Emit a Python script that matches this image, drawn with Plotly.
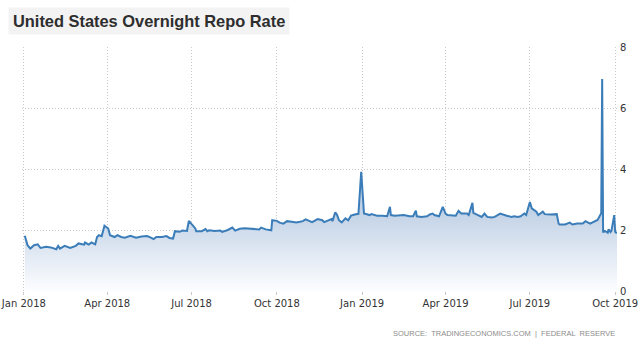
import plotly.graph_objects as go

# Overnight repo rate observations (percent)
dates = [
    "2018-01-02", "2018-01-04", "2018-01-05", "2018-01-08", "2018-01-12", "2018-01-16", "2018-01-19",
    "2018-01-25", "2018-01-30", "2018-02-05", "2018-02-07", "2018-02-09", "2018-02-14", "2018-02-20",
    "2018-02-26", "2018-03-01", "2018-03-07", "2018-03-08", "2018-03-12", "2018-03-15", "2018-03-19",
    "2018-03-21", "2018-03-23", "2018-03-26", "2018-03-29", "2018-04-02", "2018-04-04", "2018-04-09",
    "2018-04-12", "2018-04-16", "2018-04-20", "2018-04-26", "2018-05-02", "2018-05-08", "2018-05-14",
    "2018-05-18", "2018-05-21", "2018-05-24", "2018-05-30", "2018-06-04", "2018-06-07", "2018-06-11",
    "2018-06-13", "2018-06-18", "2018-06-21", "2018-06-26", "2018-06-28", "2018-07-02", "2018-07-05",
    "2018-07-06", "2018-07-12", "2018-07-16", "2018-07-18", "2018-07-20", "2018-07-26", "2018-08-01",
    "2018-08-03", "2018-08-09", "2018-08-14", "2018-08-17", "2018-08-22", "2018-08-27", "2018-09-04",
    "2018-09-07", "2018-09-12", "2018-09-14", "2018-09-19", "2018-09-25", "2018-09-26", "2018-10-01",
    "2018-10-04", "2018-10-08", "2018-10-12", "2018-10-17", "2018-10-22", "2018-10-26", "2018-10-29",
    "2018-11-01", "2018-11-05", "2018-11-08", "2018-11-14", "2018-11-19", "2018-11-21", "2018-11-26",
    "2018-11-29", "2018-11-30", "2018-12-03", "2018-12-05", "2018-12-07", "2018-12-10", "2018-12-14",
    "2018-12-17", "2018-12-20", "2018-12-24", "2018-12-28", "2018-12-31",
    "2019-01-03", "2019-01-07", "2019-01-09", "2019-01-11", "2019-01-17", "2019-01-23", "2019-01-28",
    "2019-01-31", "2019-02-01", "2019-02-05", "2019-02-11", "2019-02-15", "2019-02-21", "2019-02-25",
    "2019-02-28", "2019-03-01", "2019-03-06", "2019-03-12", "2019-03-15", "2019-03-18", "2019-03-20",
    "2019-03-25", "2019-03-29", "2019-04-01", "2019-04-03", "2019-04-09", "2019-04-12", "2019-04-15",
    "2019-04-18", "2019-04-24", "2019-04-26", "2019-04-30", "2019-05-01", "2019-05-06", "2019-05-10",
    "2019-05-13", "2019-05-16", "2019-05-21", "2019-05-24", "2019-05-30", "2019-06-03", "2019-06-06",
    "2019-06-11", "2019-06-14", "2019-06-18", "2019-06-21", "2019-06-25", "2019-06-27", "2019-07-01",
    "2019-07-03", "2019-07-08", "2019-07-10", "2019-07-15", "2019-07-17", "2019-07-23", "2019-07-30",
    "2019-08-01", "2019-08-02", "2019-08-08", "2019-08-13", "2019-08-16", "2019-08-21", "2019-08-27",
    "2019-08-30", "2019-09-04", "2019-09-09", "2019-09-12", "2019-09-16", "2019-09-17", "2019-09-18",
    "2019-09-19", "2019-09-20", "2019-09-23", "2019-09-24", "2019-09-26", "2019-09-27", "2019-09-30",
    "2019-10-01", "2019-10-02", "2019-10-03",
]
rates = [
    1.81, 1.55, 1.50, 1.39, 1.50, 1.53, 1.41,
    1.45, 1.43, 1.37, 1.48, 1.39, 1.48, 1.41,
    1.48, 1.56, 1.52, 1.59, 1.52, 1.59, 1.53,
    1.77, 1.83, 1.80, 2.14, 2.05, 1.83, 1.77,
    1.83, 1.77, 1.75, 1.81, 1.75, 1.79, 1.80,
    1.75, 1.70, 1.77, 1.77, 1.80, 1.74, 1.72,
    1.96, 1.94, 1.98, 1.97, 2.30, 2.16, 2.05,
    1.96, 1.96, 2.03, 1.96, 1.99, 1.97, 1.98,
    1.94, 2.00, 2.08, 1.98, 2.04, 2.06, 2.04,
    2.02, 2.02, 2.08, 2.02, 1.99, 2.32, 2.30,
    2.24, 2.21, 2.29, 2.27, 2.25, 2.27, 2.29,
    2.35, 2.29, 2.26, 2.36, 2.32, 2.26, 2.32,
    2.36, 2.29, 2.58, 2.49, 2.32, 2.25, 2.38,
    2.32, 2.47, 2.51, 2.53, 3.91,
    2.54, 2.51, 2.49, 2.52, 2.47, 2.47, 2.45,
    2.76, 2.49, 2.47, 2.49, 2.49, 2.45, 2.45,
    2.63, 2.45, 2.43, 2.45, 2.51, 2.54, 2.49,
    2.45, 2.76, 2.54, 2.49, 2.49, 2.47, 2.63,
    2.54, 2.54, 2.49, 2.89, 2.56, 2.49, 2.43,
    2.54, 2.43, 2.41, 2.43, 2.54, 2.49, 2.47,
    2.43, 2.45, 2.43, 2.45, 2.54, 2.49, 2.92,
    2.71, 2.60, 2.49, 2.60, 2.52, 2.51, 2.52,
    2.21, 2.18, 2.18, 2.24, 2.18, 2.21, 2.21,
    2.29, 2.21, 2.27, 2.33, 2.55, 6.95, 1.94,
    1.94, 1.97, 1.91, 2.02, 1.93, 1.97, 2.49,
    1.94, 1.91, 1.93,
]

x_ticks = ["2018-01-01", "2018-04-01", "2018-07-01", "2018-10-01",
           "2019-01-01", "2019-04-01", "2019-07-01", "2019-10-01"]
x_labels = ["Jan 2018", "Apr 2018", "Jul 2018", "Oct 2018",
            "Jan 2019", "Apr 2019", "Jul 2019", "Oct 2019"]
y_ticks = [0, 2, 4, 6, 8]

LINE = "#3b7db8"
GRID = "#c9c9c9"
TICK_FONT = dict(family="DejaVu Sans, Verdana, sans-serif", size=10, color="#333333")

fig = go.Figure()
fig.add_trace(go.Scatter(
    x=dates, y=rates,
    mode="lines",
    line=dict(color=LINE, width=2),
    fill="tozeroy",
    fillgradient=dict(
        type="vertical",
        start=0, stop=2.6,
        colorscale=[[0, "rgb(252,253,255)"], [1, "rgb(194,210,230)"]],
    ),
    hoverinfo="x+y",
    showlegend=False,
))

fig.update_layout(
    width=640, height=344,
    margin=dict(l=22, r=23, t=47, b=53),
    paper_bgcolor="white",
    plot_bgcolor="white",
    xaxis=dict(
        type="date",
        range=["2017-12-30", "2019-10-03"],
        tickvals=x_ticks, ticktext=x_labels,
        showgrid=True, gridcolor=GRID, griddash="1px,2px", gridwidth=1,
        ticks="outside", ticklen=3, tickcolor=GRID,
        showline=False, zeroline=False,
        tickfont=TICK_FONT, automargin=False,
        ticklabeloverflow="allow",
    ),
    yaxis=dict(
        range=[0, 8],
        tickvals=y_ticks,
        side="right",
        showgrid=True, gridcolor=GRID, griddash="1px,2px", gridwidth=1,
        showline=False, zeroline=False,
        tickfont=TICK_FONT, automargin=False,
        ticks="", ticklabelstandoff=2,
        ticklabeloverflow="allow",
    ),
    annotations=[
        dict(
            text="<b>United States Overnight Repo Rate</b>",
            xref="paper", yref="paper",
            x=-0.0235, y=1.164, xanchor="left", yanchor="top",
            showarrow=False,
            font=dict(family="Liberation Sans, Arial, sans-serif", size=16.4, color="#2e2e2e"),
            bgcolor="#f3f3f3", borderpad=4,
        ),
        dict(
            text="SOURCE:  TRADINGECONOMICS.COM  |  FEDERAL  RESERVE",
            xref="paper", yref="paper",
            x=1.0, y=-0.176, xanchor="right", yanchor="middle",
            showarrow=False,
            font=dict(family="Liberation Sans, Arial, sans-serif", size=7.5, color="#8c8c8c"),
        ),
    ],
)

fig.write_html("out.html")
